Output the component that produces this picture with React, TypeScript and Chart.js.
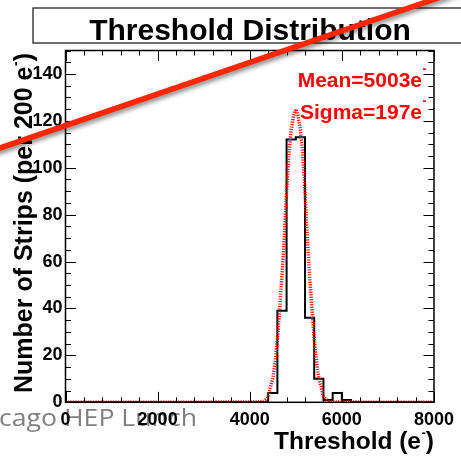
import React, { useEffect, useRef } from "react";
import { Chart, registerables } from "chart.js";

Chart.register(...registerables);

// ---- data ----
const binLowEdges = [4400, 4600, 4800, 5000, 5200, 5400, 5600, 5800, 6000];
const binCounts = [4, 39, 112, 113, 36, 10, 1, 4, 1];
const binWidth = 200;

const xRange = [0, 8000];
const yRange = [0, 150];
const xTickLabels = [0, 2000, 4000, 6000, 8000];
const yTickLabels = [0, 20, 40, 60, 80, 100, 120, 140];
const xMinorStep = 400;
const yMinorStep = 5;

// Gaussian fit curve
const fitX = [0, 4200, 4300, 4350, 4400, 4450, 4500, 4550, 4600, 4650, 4700, 4750, 4800, 4850, 4900, 4950, 5003, 5050, 5100, 5150, 5200, 5250, 5300, 5350, 5400, 5450, 5500, 5550, 5600, 5650, 5700, 5800, 8000];
const fitY = [0, 0.1, 0.5, 1.2, 2.5, 6.6, 10, 17, 27, 40, 54, 70, 90, 106, 116, 122, 125, 122, 116, 106, 90, 70, 54, 40, 27, 17, 10, 6.6, 2.5, 1.2, 0.5, 0.1, 0];

const titleText = "Threshold Distribution";
const meanLabel = "Mean=5003e";
const sigmaLabel = "Sigma=197e";
const xTitle = "Threshold (e";
const yTitle = "Number of Strips (per 200 e";
const footerText = "cago HEP Lunch";

const FONT = "'Liberation Sans', Arial, sans-serif";

function drawSupTitle(ctx: CanvasRenderingContext2D, main: string, size: number, supSize: number, supRise: number) {
  ctx.font = `bold ${size}px ${FONT}`;
  ctx.textAlign = "left";
  ctx.textBaseline = "alphabetic";
  ctx.fillText(main, 0, 0);
  const w1 = ctx.measureText(main).width;
  ctx.font = `bold ${supSize}px ${FONT}`;
  ctx.fillText("-", w1 + 0.5, -supRise);
  const w2 = ctx.measureText("-").width;
  ctx.font = `bold ${size}px ${FONT}`;
  ctx.fillText(")", w1 + w2 + 0.5, 0);
  return w1 + w2 + 0.5 + ctx.measureText(")").width;
}

const rootStyle = {
  id: "rootStyle",
  beforeDraw(chart: any) {
    const { ctx, width, height } = chart;
    ctx.save();
    ctx.fillStyle = "#ffffff";
    ctx.fillRect(0, 0, width, height);
    // faded slide footer text behind the plot
    ctx.font = "23px 'Open Sans', sans-serif";
    ctx.fillStyle = "#808080";
    ctx.textAlign = "left";
    ctx.textBaseline = "alphabetic";
    const w = ctx.measureText(footerText).width;
    ctx.translate(-1, 426);
    ctx.scale(198 / w, 1);
    ctx.fillText(footerText, 0, 0);
    ctx.restore();
  },
  afterDraw(chart: any) {
    const { ctx, chartArea: ca } = chart;
    const xs = chart.scales.x;
    const ys = chart.scales.y;
    ctx.save();

    // tick marks inside the frame, all four sides
    ctx.strokeStyle = "#000";
    ctx.lineWidth = 1;
    ctx.beginPath();
    for (let v = xRange[0]; v <= xRange[1]; v += xMinorStep) {
      const px = Math.round(xs.getPixelForValue(v)) + 0.5;
      const len = v % 2000 === 0 ? 10.5 : 5;
      ctx.moveTo(px, ca.bottom);
      ctx.lineTo(px, ca.bottom - len);
      ctx.moveTo(px, ca.top);
      ctx.lineTo(px, ca.top + len);
    }
    for (let v = yRange[0]; v <= yRange[1]; v += yMinorStep) {
      const py = Math.round(ys.getPixelForValue(v)) + 0.5;
      const len = v % 20 === 0 ? 10.5 : 5.5;
      ctx.moveTo(ca.left, py);
      ctx.lineTo(ca.left + len, py);
      ctx.moveTo(ca.right, py);
      ctx.lineTo(ca.right - len, py);
    }
    ctx.stroke();

    // frame
    ctx.lineWidth = 1.5;
    ctx.strokeRect(ca.left, ca.top, ca.right - ca.left, ca.bottom - ca.top);

    // title box
    ctx.lineWidth = 1.3;
    ctx.strokeStyle = "#222";
    ctx.strokeRect(33, 8, 434, 35);
    ctx.fillStyle = "#000";
    ctx.font = `bold 30px ${FONT}`;
    ctx.textAlign = "center";
    ctx.textBaseline = "alphabetic";
    ctx.fillText(titleText, 250, 39.5);

    // fit statistics
    ctx.fillStyle = "#ff0000";
    ctx.font = `bold 21px ${FONT}`;
    ctx.textAlign = "right";
    ctx.fillText(meanLabel, 422, 86.5);
    ctx.fillText(sigmaLabel, 422, 118.5);
    ctx.font = `bold 12px ${FONT}`;
    ctx.textAlign = "left";
    ctx.fillText("-", 422.5, 73);
    ctx.fillText("-", 422.5, 105);

    // x axis title (right aligned to frame)
    ctx.fillStyle = "#000";
    const xs1 = 24.5;
    ctx.font = `bold ${xs1}px ${FONT}`;
    const wMain = ctx.measureText(xTitle).width;
    ctx.font = `bold 13px ${FONT}`;
    const wSup = ctx.measureText("-").width;
    ctx.font = `bold ${xs1}px ${FONT}`;
    const wPar = ctx.measureText(")").width;
    const total = wMain + wSup + 0.5 + wPar;
    ctx.save();
    ctx.translate(ca.right - total, 448.5);
    drawSupTitle(ctx, xTitle, xs1, 13, 12);
    ctx.restore();

    // y axis title (rotated)
    ctx.save();
    ctx.translate(31.5, 393);
    ctx.rotate(-Math.PI / 2);
    drawSupTitle(ctx, yTitle, 25, 14, 12);
    ctx.restore();

    // red diagonal slide annotation stroke
    const slope = -148 / 432;
    ctx.strokeStyle = "rgb(255,38,0)";
    ctx.lineWidth = 5.5;
    ctx.lineCap = "butt";
    ctx.shadowColor = "rgba(0,0,0,0.45)";
    ctx.shadowBlur = 4;
    ctx.shadowOffsetX = 1;
    ctx.shadowOffsetY = 3;
    ctx.beginPath();
    ctx.moveTo(-10, 148 - 10 * slope);
    ctx.lineTo(480, 148 + 480 * slope);
    ctx.stroke();

    ctx.restore();
  },
};

export default function App() {
  const canvasRef = useRef<HTMLCanvasElement | null>(null);

  useEffect(() => {
    if (!canvasRef.current) return;
    const histPoints = [{ x: xRange[0], y: 0 }]
      .concat(binLowEdges.map((x, i) => ({ x, y: binCounts[i] })))
      .concat([
        { x: binLowEdges[binLowEdges.length - 1] + binWidth, y: 0 },
        { x: xRange[1], y: 0 },
      ]);
    const fitPoints = fitX.map((x, i) => ({ x, y: fitY[i] }));

    const chart = new Chart(canvasRef.current, {
      type: "line",
      data: {
        datasets: [
          {
            label: "hist",
            data: histPoints,
            stepped: "before",
            borderColor: "#000000",
            borderWidth: 2,
            pointRadius: 0,
            fill: false,
            order: 2,
          },
          {
            label: "fit",
            data: fitPoints,
            borderColor: "rgba(255,0,0,0.95)",
            borderWidth: 3.5,
            borderDash: [1.2, 1.3],
            pointRadius: 0,
            tension: 0,
            fill: false,
            order: 1,
          },
        ],
      },
      options: {
        animation: false,
        responsive: false,
        devicePixelRatio: 1,
        layout: { padding: { top: 50.5, right: 25, left: 0, bottom: 0 } },
        plugins: {
          legend: { display: false },
          tooltip: { enabled: false },
          title: { display: false },
        },
        scales: {
          x: {
            type: "linear",
            min: xRange[0],
            max: xRange[1],
            grid: { display: false, drawTicks: false },
            border: { display: false },
            ticks: {
              color: "#000",
              font: { family: FONT, weight: "bold", size: 18 },
              padding: 7,
              maxRotation: 0,
              autoSkip: false,
              callback: (v: any) => String(v),
            },
            afterBuildTicks: (s: any) => {
              s.ticks = xTickLabels.map((v) => ({ value: v }));
            },
            afterFit: (s: any) => {
              s.height = 59.7;
            },
          },
          y: {
            type: "linear",
            min: yRange[0],
            max: yRange[1],
            grid: { display: false, drawTicks: false },
            border: { display: false },
            ticks: {
              color: "#000",
              font: { family: "'Liberation Sans Narrow', " + FONT, weight: "bold", size: 18 },
              padding: 3,
              autoSkip: false,
              callback: (v: any) => String(v),
            },
            afterBuildTicks: (s: any) => {
              s.ticks = yTickLabels.map((v) => ({ value: v }));
            },
            afterFit: (s: any) => {
              s.width = 65.5;
            },
          },
        },
      },
      plugins: [rootStyle],
    });
    return () => chart.destroy();
  }, []);

  return (
    <div style={{ position: "fixed", left: 0, top: 0, width: 461, height: 462, background: "#fff" }}>
      <canvas ref={canvasRef} width={461} height={462} style={{ display: "block" }} />
    </div>
  );
}
